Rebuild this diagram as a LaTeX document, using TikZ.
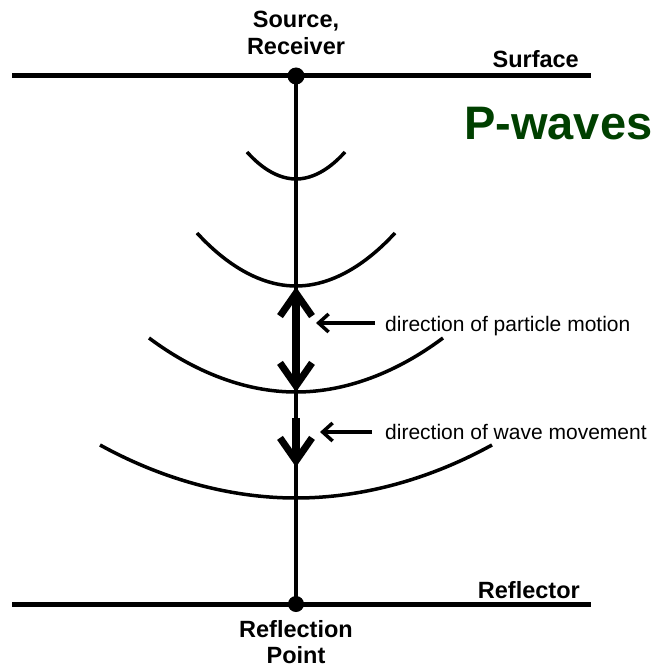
\documentclass[tikz,border=0pt]{standalone}
\usepackage{fontspec}
\setmainfont{Liberation Sans}
\usepackage{xcolor}
\usepackage{tikz}
\usetikzlibrary{positioning,arrows.meta}

\definecolor{pgreen}{RGB}{0,64,0}

\begin{document}
\begin{tikzpicture}[x=1pt, y=-1pt,
  hz/.style={line width=5pt},
  ray/.style={line width=3.5pt},
  front/.style={line width=3.5pt},
  big/.style={line width=7.5pt, {Straight Barb[length=23pt,width=32pt,line width=7pt]}-{Straight Barb[length=23pt,width=32pt,line width=7pt]}},
  down/.style={line width=7.5pt, -{Straight Barb[length=23pt,width=32pt,line width=7pt]}},
  ptr/.style={line width=3.2pt, -{Straight Barb[length=10pt,width=18pt,line width=3.5pt]}},
  bl/.style={font=\fontsize{23.5}{27}\selectfont\bfseries, align=center, inner sep=0pt},
  nt/.style={font=\fontsize{21}{25}\selectfont, inner sep=0pt}]
\useasboundingbox (0,0) rectangle (658,668);
% surface, reflector and the ray between them
\coordinate (sl) at (12,76);  \coordinate (sr) at (591,76);
\coordinate (rl) at (12,604); \coordinate (rr) at (591,604);
\coordinate (src) at (296,76); \coordinate (pt) at (296,604);
\draw[hz] (sl) -- (sr);
\draw[hz] (rl) -- (rr);
\draw[ray] (src) -- (pt);
\fill (src) circle (8.5);
\fill (pt) circle (8);
% wavefronts (half width / end row / lowest row)
\foreach \hw/\top/\bot in {49/152/179, 99/233/286, 147/338/392, 196/445/498}
  \draw[front] (296-\hw,\top) parabola bend (296,\bot) (296+\hw,\top);
% particle motion and wave movement
\coordinate (p1) at (296,287); \coordinate (p2) at (296,392);
\coordinate (w1) at (296,418); \coordinate (w2) at (296,467);
\draw[big] (p1) -- (p2);
\draw[down] (w1) -- (w2);
\node[nt, anchor=base west] (part) at (385,331) {direction of particle motion};
\node[nt, anchor=base west] (wave) at (385,439) {direction of wave movement};
\coordinate (pa) at (375,323); \coordinate (pb) at (316,323);
\coordinate (wa) at (372,432); \coordinate (wb) at (320,432);
\draw[ptr] (pa) -- (pb);
\draw[ptr] (wa) -- (wb);
% labels
\node[bl, anchor=base] (source) at (296,28) {Source,};
\node[bl, anchor=base] (receiver) at (296,55) {Receiver};
\node[bl, anchor=base east] (surface) at (579,68) {Surface};
\node[bl, anchor=base east] (reflector) at (580,598) {Reflector};
\node[bl, anchor=base] (reflection) at (296,637) {Reflection};
\node[bl, anchor=base] (point) at (296,663) {Point};
\node[font=\fontsize{47}{50}\selectfont\bfseries, text=pgreen, inner sep=0pt, anchor=base west] (pwaves) at (464,140) {P-waves};
\end{tikzpicture}
\end{document}
